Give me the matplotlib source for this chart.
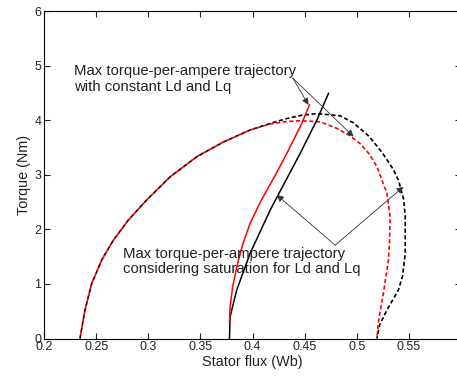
import matplotlib
matplotlib.use("Agg")
import matplotlib.pyplot as plt

plt.rcParams['font.family'] = ['Liberation Sans', 'DejaVu Sans']

# outer boundary, constant Ld/Lq (black dashed)
bd_x = [0.2345, 0.2393, 0.2458, 0.2554, 0.2665, 0.2809, 0.2986, 0.3209, 0.3465, 0.3721, 0.3977,
        0.4169, 0.4329, 0.4470, 0.4617, 0.4841, 0.4969, 0.5120, 0.5246, 0.5350, 0.540, 0.5450,
        0.5465, 0.5465, 0.5440, 0.5400, 0.5289, 0.5220, 0.5193]
bd_y = [0.0, 0.52, 1.01, 1.44, 1.80, 2.17, 2.54, 2.96, 3.33, 3.60, 3.82,
        3.94, 4.03, 4.09, 4.12, 4.08, 3.95, 3.70, 3.40, 3.10, 2.90, 2.55,
        2.23, 1.56, 1.15, 0.89, 0.52, 0.25, 0.0]

# outer boundary with saturation (red dashed)
rd_x = [0.2345, 0.2393, 0.2458, 0.2554, 0.2665, 0.2809, 0.2986, 0.3209, 0.3465, 0.3721, 0.3977,
        0.4169, 0.4300, 0.4457, 0.4649, 0.4809, 0.4930, 0.5033, 0.5120, 0.5193, 0.5289, 0.532,
        0.5315, 0.5304, 0.5256, 0.521, 0.5193]
rd_y = [0.0, 0.52, 1.01, 1.44, 1.80, 2.17, 2.54, 2.96, 3.33, 3.60, 3.82,
        3.93, 3.97, 3.99, 3.97, 3.85, 3.72, 3.57, 3.38, 3.15, 2.66, 2.23,
        1.80, 1.44, 0.83, 0.34, 0.0]

# MTPA, constant Ld/Lq (black solid)
bs_x = [0.3779, 0.3785, 0.3849, 0.3977, 0.4169, 0.4329, 0.4457, 0.4617, 0.4729]
bs_y = [0.0, 0.40, 0.89, 1.56, 2.35, 2.93, 3.39, 4.00, 4.49]

# MTPA with saturation (red solid)
rs_x = [0.3779, 0.3785, 0.3810, 0.3849, 0.3905, 0.3977, 0.4080, 0.4201, 0.4329, 0.4473, 0.4546]
rs_y = [0.30, 0.58, 0.95, 1.31, 1.72, 2.11, 2.52, 2.93, 3.39, 3.94, 4.28]

xticks = [0.2, 0.25, 0.3, 0.35, 0.4, 0.45, 0.5, 0.55]
xticklabels = ['0.2', '0.25', '0.3', '0.35', '0.4', '0.45', '0.5', '0.55']
yticks = [0, 1, 2, 3, 4, 5, 6]

note1 = "Max torque-per-ampere trajectory\nwith constant Ld and Lq"
note2 = "Max torque-per-ampere trajectory\nconsidering saturation for Ld and Lq"

fig = plt.figure(figsize=(4.57, 3.79), dpi=100)
ax = fig.add_axes([44/457, 40.5/379, 417/457, 327.5/379])

ax.plot(bd_x, bd_y, color='black', linestyle=(0, (2.5, 1.5)), linewidth=1.2)
ax.plot(rd_x, rd_y, color='red', linestyle=(2.0, (2.5, 1.5)), linewidth=1.2)
ax.plot(bs_x, bs_y, color='black', linewidth=1.1)
ax.plot(rs_x, rs_y, color='red', linewidth=1.1)

ax.set_xlim(0.2, 0.6)
ax.set_ylim(0, 6)
ax.set_xticks(xticks)
ax.set_xticklabels(xticklabels)
ax.set_yticks(yticks)
ax.tick_params(direction='in', top=True, right=True, labelsize=9, colors='#222222', length=4, pad=2)
for s in ax.spines.values():
    s.set_linewidth(0.8)
ax.set_xlabel('Stator flux (Wb)', fontsize=10.4, color='#222222', labelpad=1)
ax.set_ylabel('Torque (Nm)', fontsize=10.4, color='#222222', labelpad=2)

arrow = dict(arrowstyle='-|>', color='#333333', lw=0.6, mutation_scale=10, shrinkA=0, shrinkB=0)
ax.text(0.2288, 4.75, note1, fontsize=10.7, color='#222222', va='center', ha='left', linespacing=1.15)
ax.annotate('', xy=(0.4537, 4.28), xytext=(0.4387, 4.77), arrowprops=arrow)
ax.annotate('', xy=(0.4969, 3.70), xytext=(0.4387, 4.77), arrowprops=arrow)

ax.text(0.2755, 1.41, note2, fontsize=10.7, color='#222222', va='center', ha='left', linespacing=1.15)
ax.annotate('', xy=(0.4233, 2.63), xytext=(0.4793, 1.71), arrowprops=arrow)
ax.annotate('', xy=(0.5448, 2.78), xytext=(0.4793, 1.71), arrowprops=arrow)

fig.savefig('out.png', dpi=100)
